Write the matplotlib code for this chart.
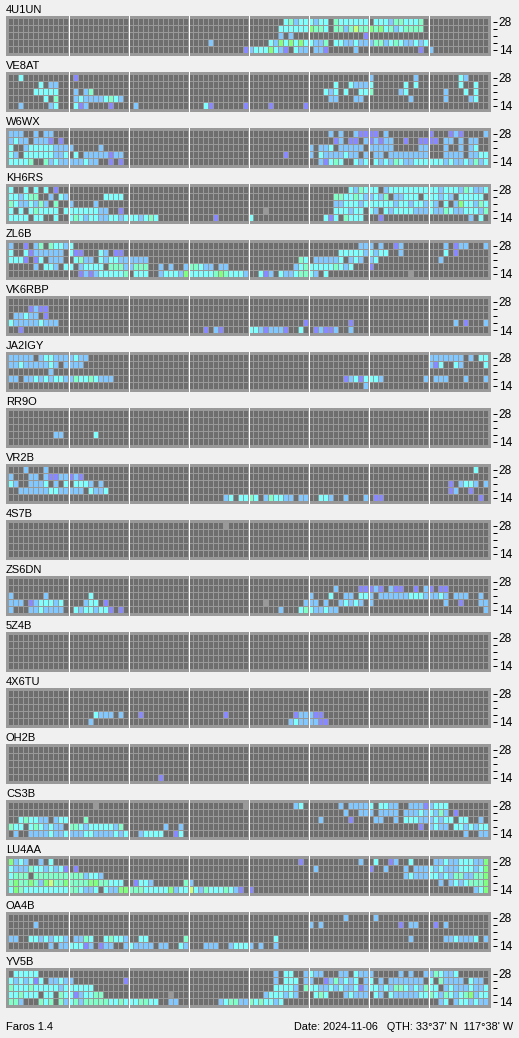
import numpy as np
import matplotlib
matplotlib.use("Agg")
import matplotlib.pyplot as plt
from matplotlib.colors import ListedColormap

# Each station: five band rows, top (28 MHz) to bottom (14 MHz).
# A row lists "first_slot:codes" runs of 15-minute slots; anything not listed was not heard.
# b l c m g y = rising signal strength, x = no data
N4U1UN = ["55:cmlccclcc 65:mcccccc 73:ccclmmcccm",
          "54:ccccccgmmc 65:mmlmymmgmgcmlcmmmm",
          "54:l 56:l 71:b",
          "40:l 52:clgcgcgccllm 65:ccllclllmmlcmcllclc",
          "47:blcccgclb 57:cll 61:llb 69:l 82:b 84:l"]
VE8AT = ["2:c 13:b 72:l 81:l 90:cl",
         "6:c 8:ll 65:c 68:clllc 79:c 81:c 90:c 93:c",
         "5:ccccc 13:l 15:lm 63:clc 67:c 70:ccm 78:lc 87:l 91:c 93:c",
         "7:c 9:m 13:lcllllcmcl 64:ll 69:ll 80:l 87:l 92:lc",
         "2:l 8:lc 13:cbl 20:b 25:l 39:cb 47:b 52:b 59:b"]
W6WX = ["0:lll 5:l 7:ll 64:l 66:l 69:lbbbb 75:l 84:b 88:blb 95:l",
        "0:lcll 5:lllb 10:b 65:bl 68:bb 71:lblbll 79:b 82:bbbb 87:ll 90:l 92:ll",
        "0:c 3:lcccccllll 18:l 60:l 62:llc 66:lllll 72:lllll 82:ll 87:l 90:l 92:lc",
        "0:cl 3:ccccccllc 13:c 15:lllllbll 55:b 60:l 62:cllllcll 71:l 73:ll 76:llllllll 87:llll 92:llcc",
        "0:ccccm 7:mlclllllcll 20:b 22:b 62:lbcmc 69:clc 73:clclmcllcccccclcllclmlc"]
KH6RS = ["0:c 3:c 5:c 7:c 9:b 68:clmccc 75:lcccccccccclccclmcllc",
         "0:cclcmm 8:l 10:cl 19:cccc 65:mmccmcllclm 77:llccc 83:ccclcl 90:ccccc",
         "0:mcllclml 9:m 12:l 17:l 65:llccclcccccclcclcclcl 87:c 89:lgcclmc",
         "0:c 2:c 4:cmcccc 11:cccccccll 22:b 51:x 65:ccclcc 72:cl 75:clcccclllcllmcllccclm",
         "0:cccc 5:cc 9:c 12:cmclccllcclccclcmc 41:b 48:c 63:cbc 67:mccc 74:b 92:l 94:c"]
ZL6B = ["0:l 3:b 5:lm 8:mcclc 70:lll 74:l 77:bl 87:l 89:bll 95:l",
        "0:c 3:cbllllll 12:cbb 18:cl 21:bb 66:ccccclclcc 78:l 87:c 89:b",
        "0:cccb 5:bc 8:lll 13:cmll 18:clccllllll 58:mc 61:lllllc 68:lcl 72:lc 86:l",
        "5:l 7:ccl 11:cc 14:lcccc 20:mmmllmmm 30:l 32:l 35:lmmcll 42:ll 57:lcmcccccmclc 72:b",
        "14:blblcccccm 25:ccc 30:lcccl 35:gcccccmgmcccl 50:cbl 54:cllcmmcl 63:c 80:x"]
VK6RBP = ["",
          "4:blbb",
          "1:llcll 7:b",
          "0:clllllclll 59:b 68:b 89:l 91:b 95:l",
          "2:b 39:b 41:lb 48:cc 50:lblllb 58:c 61:blbbl 68:l"]
JA2IGY = ["0:lllll 6:lccllllcll 84:lllllll 92:l 94:cc",
          "0:llclllllcl 11:llll 84:lbc 89:cl 95:c",
          "8:l",
          "0:ll 3:llclclccllmccmclll 67:blcbcccl 83:l 85:lll 91:l 95:l",
          "71:l"]
RR9O = ["", "", "", "9:ll 17:c", ""]
VR2B = ["3:l 7:l 93:c",
        "0:l 4:ll 7:lbbllblb",
        "0:cl 4:lllc 9:l 11:c 13:cccl 18:l 88:b 90:lccl 95:l",
        "2:llllllcclllll 16:cllc 88:bl 92:b",
        "43:lc 46:ccmc 51:lmccll 58:ll 62:ccl 67:l 71:l 73:bb 94:b"]
N4S7B = ["43:x", "", "", "", ""]
ZS6DN = ["",
         "65:l 70:bbblb 76:lbb 81:b 83:lb 86:bb",
         "0:l 7:l 16:c 60:l 64:c 67:ll 70:ccl 74:llllllccclllcl 89:lll 94:l",
         "0:lll 4:blccclc 15:lcc 19:b 51:x 59:lll 63:l 66:lclcl 72:l 87:l 90:b 94:ll",
         "0:l 4:llcllll 13:clcclccb 22:b 54:l 58:cmcllcll 95:l"]
N5Z4B = ["", "", "", "", ""]
N4X6TU = ["", "", "",
          "17:clll 22:l 26:b 43:b 57:blllbb",
          "16:l 56:lcllllbb"]
OH2B = ["", "", "", "", "30:b"]
CS3B = ["17:x 47:x 57:lc 66:l 68:llllc 74:ccll 80:lllblccc",
        "67:l 70:lll 74:llll 79:lllclclml 89:b",
        "2:cmccll 9:lcc 15:m 62:l 68:b 73:ll 77:l 79:ccclllclcc 90:cc 94:l",
        "0:mcc 4:cmclcll 12:mmclccccclm 31:l 34:l 82:b 84:lcll 89:cclclcc",
        "1:l 4:llllcllclllccllllclc 26:lcccc 33:bc 91:l 94:ll"]
LU4AA = ["0:glcl 6:l 8:c 58:b 70:l 73:c 76:bl 80:c 85:llcllcccll 95:g",
         "0:clllmcclclcb 13:b 61:l 72:b 75:l 79:l 81:lllclclllccclcg",
         "0:cmmm 5:mmmmmmmmmmlccl 79:lclllcclclmmllmmg",
         "0:mgmmgmlgymmgmmmmggmmccc 25:bccl 35:ml 86:l 88:lclcmmmg",
         "0:cgmcccccccccmmcllc 19:cllggmmmcccccglccyclmcccmclb 48:b 93:lcg"]
OA4B = ["67:l 73:l",
        "5:l 60:l 62:l 78:b 80:ll 85:b 87:l",
        "",
        "0:ll 4:cclclccl 13:llmc 19:cmccl 26:cc 35:m 53:c 80:l 87:llclllc 95:l",
        "8:l 10:llcccbl 18:bll 23:lcllll 30:ll 34:cl 39:lll 44:lcccl 50:l 53:l"]
YV5B = ["1:ccccc 53:l 55:cc 59:lcll 66:ll 69:clll 78:l 80:l 83:llmcllc",
        "0:clclcbc 8:llcll 23:b 53:l 55:ccc 59:ll 63:blmlclc 71:lc 74:l 76:lllllll 84:c 86:mllll 92:cll",
        "0:mcccmccccclcccccc 53:ccccl 59:mccllclcllcblcclclmmclclmcc 87:lclllcllc",
        "0:ccmccc 7:cc 10:mccblccmm 32:x 51:lccclcl 61:cmc 67:lclll 73:cl 76:clllllcc 84:mclmclcmglcc",
        "0:mml 6:mcm 10:mlcmlmmmmmccmcccmmcc 32:ll 42:lcmmllmc 50:mcclc 86:lc 89:lcclcll"]

STATION_NAMES = ["4U1UN", "VE8AT", "W6WX", "KH6RS", "ZL6B", "VK6RBP", "JA2IGY", "RR9O", "VR2B",
                 "4S7B", "ZS6DN", "5Z4B", "4X6TU", "OH2B", "CS3B", "LU4AA", "OA4B", "YV5B"]
STATION_ROWS = [N4U1UN, VE8AT, W6WX, KH6RS, ZL6B, VK6RBP, JA2IGY, RR9O, VR2B,
                N4S7B, ZS6DN, N5Z4B, N4X6TU, OH2B, CS3B, LU4AA, OA4B, YV5B]
BAND_LABELS = ["28", "", "", "", "14"]
FOOT_LEFT = "Faros 1.4"
FOOT_RIGHT = "Date: 2024-11-06   QTH: 33°37' N  117°38' W"

W, H = 519, 1038
BG = "#f0f0f0"
FRAME = "#999999"
CODES = ".blcmgyx"
COLORS = ["#6e6e6e", "#8888ff", "#80c8ff", "#80ffff", "#80ffc8", "#80ff80", "#c8ff80", "#999999"]
SLOTS = 96
cmap = ListedColormap(COLORS)


def decode(rows):
    grid = np.zeros((len(rows), SLOTS))
    for r, text in enumerate(rows):
        for run in text.split():
            start, codes = run.split(":")
            for k, ch in enumerate(codes):
                grid[r, int(start) + k] = CODES.index(ch)
    return grid


plt.rcParams["font.family"] = ["Liberation Sans", "DejaVu Sans"]
fig = plt.figure(figsize=(W / 100, H / 100), dpi=100, facecolor=BG)

# cell geometry in pixels: 5 px pitch / 4 px cell across, 7 px pitch / 6 px cell down
x_edges = np.ravel(np.column_stack([np.arange(SLOTS), np.arange(SLOTS) + 0.8]))
y_edges = np.ravel(np.column_stack([np.arange(5), np.arange(5) + 6 / 7]))
px = 1 / 100 * 72  # points per pixel

for i, (name, rows) in enumerate(zip(STATION_NAMES, STATION_ROWS)):
    top = 16 + 56 * i
    ax = fig.add_axes([6 / W, 1 - (top + 40) / H, 485 / W, 40 / H], facecolor=FRAME)
    grid = decode(rows)
    full = np.ma.masked_all((2 * 5 - 1, 2 * SLOTS - 1))
    full[::2, ::2] = grid
    ax.pcolormesh(x_edges, y_edges, full, cmap=cmap, vmin=-0.5, vmax=7.5,
                  antialiased=False, linewidth=0, shading="flat")
    ax.set_xlim(-3 / 5, SLOTS + 2 / 5)
    ax.set_ylim(37 / 7, -3 / 7)
    for hour_slot in range(12, SLOTS, 12):
        ax.axvline(hour_slot - 0.1, color="white", lw=px, antialiased=False, zorder=3)
    for s in ("top", "left", "bottom", "right"):
        ax.spines[s].set_visible(False)
    ax.spines["right"].set_position(("outward", 2 * px))
    ax.set_xticks([])
    ax.yaxis.tick_right()
    ax.set_yticks(np.arange(5) + 3 / 7)
    ax.set_yticklabels(BAND_LABELS, fontsize=8.6, color="black")
    ax.tick_params(axis="y", length=4 * px, width=px, pad=1.6 * px, color="black")
    ax.annotate(name, xy=(0, 1), xycoords="axes fraction", xytext=(0, 3 * px),
                textcoords="offset points", va="baseline", ha="left", fontsize=8, color="black")

fig.text(6 / W, 1 - 1030 / H, FOOT_LEFT, fontsize=8, va="baseline", ha="left", color="black")
fig.text(513 / W, 1 - 1030 / H, FOOT_RIGHT, fontsize=7.8, va="baseline", ha="right", color="black")
fig.savefig("out.png", dpi=100, facecolor=BG)
